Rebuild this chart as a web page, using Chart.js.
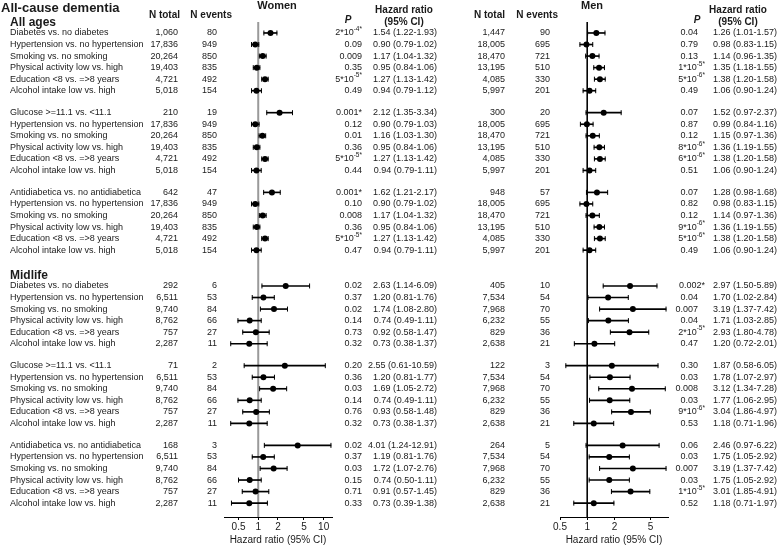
<!doctype html>
<html>

<head>
	<title>All-cause dementia - hazard ratios</title>
	<script src="https://cdn.jsdelivr.net/npm/chart.js"></script>
	<style>
		body {
			margin: 0;
			background: #fff;
		}
		#holder {
			position: relative;
			width: 779px;
			height: 546px;
		}
		#holder canvas {
			position: absolute;
			left: 0;
			top: 0;
		}
	</style>
</head>

<body>
	<div id="holder">
		<canvas id="women" width="779" height="546"></canvas>
		<canvas id="men" width="779" height="546"></canvas>
	</div>
	<script>
		const sectionLabels = ['All ages', 'Midlife'];
		const exposureLabels = ['Diabetes vs. no diabetes', 'Glucose >=11.1 vs. <11.1', 'Antidiabetica vs. no antidiabetica'];
		const riskLabels = [
			'Hypertension vs. no hypertension',
			'Smoking vs. no smoking',
			'Physical activity low vs. high',
			'Education <8 vs. =>8 years',
			'Alcohol intake low vs. high'
		];

		// one entry per row: 2 sections x 3 blocks x 6 rows
		const womenTotal = [
			1060, 17836, 20264, 19403, 4721, 5018,
			210, 17836, 20264, 19403, 4721, 5018,
			642, 17836, 20264, 19403, 4721, 5018,
			292, 6511, 9740, 8762, 757, 2287,
			71, 6511, 9740, 8762, 757, 2287,
			168, 6511, 9740, 8762, 757, 2287
		];
		const womenEvents = [
			80, 949, 850, 835, 492, 154,
			19, 949, 850, 835, 492, 154,
			47, 949, 850, 835, 492, 154,
			6, 53, 84, 66, 27, 11,
			2, 53, 84, 66, 27, 11,
			3, 53, 84, 66, 27, 11
		];
		const womenP = [
			'2*10^-4*', '0.09', '0.009', '0.35', '5*10^-5*', '0.49',
			'0.001*', '0.12', '0.01', '0.36', '5*10^-5*', '0.44',
			'0.001*', '0.10', '0.008', '0.36', '5*10^-5*', '0.47',
			'0.02', '0.37', '0.02', '0.14', '0.73', '0.32',
			'0.20', '0.36', '0.03', '0.14', '0.76', '0.32',
			'0.02', '0.37', '0.03', '0.15', '0.71', '0.33'
		];
		const womenHR = [
			1.54, 0.90, 1.17, 0.95, 1.27, 0.94,
			2.12, 0.90, 1.16, 0.95, 1.27, 0.94,
			1.62, 0.90, 1.17, 0.95, 1.27, 0.94,
			2.63, 1.20, 1.74, 0.74, 0.92, 0.73,
			2.55, 1.20, 1.69, 0.74, 0.93, 0.73,
			4.01, 1.19, 1.72, 0.74, 0.91, 0.73
		];
		const womenLo = [
			1.22, 0.79, 1.04, 0.84, 1.13, 0.79,
			1.35, 0.79, 1.03, 0.84, 1.13, 0.79,
			1.21, 0.79, 1.04, 0.84, 1.13, 0.79,
			1.14, 0.81, 1.08, 0.49, 0.58, 0.38,
			0.61, 0.81, 1.05, 0.49, 0.58, 0.38,
			1.24, 0.81, 1.07, 0.50, 0.57, 0.39
		];
		const womenHi = [
			1.93, 1.02, 1.32, 1.06, 1.42, 1.12,
			3.34, 1.03, 1.30, 1.06, 1.42, 1.11,
			2.17, 1.02, 1.32, 1.06, 1.42, 1.11,
			6.09, 1.76, 2.80, 1.11, 1.47, 1.37,
			10.59, 1.77, 2.72, 1.11, 1.48, 1.37,
			12.91, 1.76, 2.76, 1.11, 1.45, 1.38
		];

		const menTotal = [
			1447, 18005, 18470, 13195, 4085, 5997,
			300, 18005, 18470, 13195, 4085, 5997,
			948, 18005, 18470, 13195, 4085, 5997,
			405, 7534, 7968, 6232, 829, 2638,
			122, 7534, 7968, 6232, 829, 2638,
			264, 7534, 7968, 6232, 829, 2638
		];
		const menEvents = [
			90, 695, 721, 510, 330, 201,
			20, 695, 721, 510, 330, 201,
			57, 695, 721, 510, 330, 201,
			10, 54, 70, 55, 36, 21,
			3, 54, 70, 55, 36, 21,
			5, 54, 70, 55, 36, 21
		];
		const menP = [
			'0.04', '0.79', '0.13', '1*10^-5*', '5*10^-6*', '0.49',
			'0.07', '0.87', '0.12', '8*10^-6*', '6*10^-6*', '0.51',
			'0.07', '0.82', '0.12', '9*10^-6*', '5*10^-6*', '0.49',
			'0.002*', '0.04', '0.007', '0.04', '2*10^-5*', '0.47',
			'0.30', '0.03', '0.008', '0.03', '9*10^-6*', '0.53',
			'0.06', '0.03', '0.007', '0.03', '1*10^-5*', '0.52'
		];
		const menHR = [
			1.26, 0.98, 1.14, 1.35, 1.38, 1.06,
			1.52, 0.99, 1.15, 1.36, 1.38, 1.06,
			1.28, 0.98, 1.14, 1.36, 1.38, 1.06,
			2.97, 1.70, 3.19, 1.71, 2.93, 1.20,
			1.87, 1.78, 3.12, 1.77, 3.04, 1.18,
			2.46, 1.75, 3.19, 1.75, 3.01, 1.18
		];
		const menLo = [
			1.01, 0.83, 0.96, 1.18, 1.20, 0.90,
			0.97, 0.84, 0.97, 1.19, 1.20, 0.90,
			0.98, 0.83, 0.97, 1.19, 1.20, 0.90,
			1.50, 1.02, 1.37, 1.03, 1.80, 0.72,
			0.58, 1.07, 1.34, 1.06, 1.86, 0.71,
			0.97, 1.05, 1.37, 1.05, 1.85, 0.71
		];
		const menHi = [
			1.57, 1.15, 1.35, 1.55, 1.58, 1.24,
			2.37, 1.16, 1.36, 1.55, 1.58, 1.24,
			1.68, 1.15, 1.36, 1.55, 1.58, 1.24,
			5.89, 2.84, 7.42, 2.85, 4.78, 2.01,
			6.05, 2.97, 7.28, 2.95, 4.97, 1.96,
			6.22, 2.92, 7.42, 2.92, 4.91, 1.97
		];

		const womenTicks = [0.5, 1, 2, 5, 10];
		const menTicks = [0.5, 1, 2, 5];

		const FONT = "'Liberation Sans', Arial, sans-serif";
		const TEXT = '#1a1a1a';
		const BODY = '9px ' + FONT;
		const SUP = '6.5px ' + FONT;

		// row layout on the hidden y scale (units = one row)
		const BLOCK_STRIDE = 6.9;
		const SECTION_STRIDE = 21.9;
		const Y_MIN = -0.95;
		const Y_MAX = 41.9;

		const rowLabels = [];
		const rowPos = [];
		sectionLabels.forEach((s, si) => {
			exposureLabels.forEach((e, bi) => {
				[e].concat(riskLabels).forEach((label, i) => {
					rowLabels.push(label);
					rowPos.push(si * SECTION_STRIDE + bi * BLOCK_STRIDE + i);
				});
			});
		});

		const fmtN = (n) => n.toLocaleString('en-US');
		const fmtHR = (v, l, h) => v.toFixed(2) + ' (' + l.toFixed(2) + '-' + h.toFixed(2) + ')';

		function put(ctx, text, x, y, align, font) {
			ctx.font = font;
			ctx.textAlign = align;
			ctx.fillText(text, x, y);
		}

		// p values like 5*10^-5* : part after ^ is a superscript
		function putP(ctx, str, right, y) {
			const parts = str.split('^');
			ctx.textAlign = 'left';
			ctx.font = BODY;
			const wBase = ctx.measureText(parts[0]).width;
			let wSup = 0;
			if (parts[1]) {
				ctx.font = SUP;
				wSup = ctx.measureText(parts[1]).width;
			}
			const x0 = right - wBase - wSup;
			ctx.font = BODY;
			ctx.fillText(parts[0], x0, y);
			if (parts[1]) {
				ctx.font = SUP;
				ctx.fillText(parts[1], x0 + wBase, y - 3.5);
			}
		}

		function tablePlugin(cfg) {
			return {
				id: 'table',
				afterDraw(chart) {
					const ctx = chart.ctx;
					const ys = chart.scales.y;
					ctx.save();
					ctx.fillStyle = TEXT;
					ctx.textBaseline = 'middle';

					if (cfg.labels) {
						put(ctx, 'All-cause dementia', 1, 8, 'left', 'bold 13px ' + FONT);
						sectionLabels.forEach((s, si) => {
							put(ctx, s, 10, ys.getPixelForValue(si * SECTION_STRIDE - 0.9), 'left', 'bold 12px ' + FONT);
						});
					}
					put(ctx, cfg.title, cfg.titleX, 6, 'center', 'bold 11px ' + FONT);
					put(ctx, 'N total', cfg.totalHeadX, 15, 'right', 'bold 10px ' + FONT);
					put(ctx, 'N events', cfg.eventsHeadX, 15, 'right', 'bold 10px ' + FONT);
					put(ctx, 'P', cfg.pHeadX, 20, 'center', 'italic bold 10px ' + FONT);
					put(ctx, 'Hazard ratio', cfg.hrHeadX, 10, 'center', 'bold 10px ' + FONT);
					put(ctx, '(95% CI)', cfg.hrHeadX, 22, 'center', 'bold 10px ' + FONT);

					rowPos.forEach((pos, i) => {
						const y = ys.getPixelForValue(pos);
						if (cfg.labels) {
							put(ctx, rowLabels[i], 10, y, 'left', BODY);
						}
						put(ctx, fmtN(cfg.total[i]), cfg.totalX, y, 'right', BODY);
						put(ctx, String(cfg.events[i]), cfg.eventsX, y, 'right', BODY);
						const p = cfg.p[i];
						putP(ctx, p, cfg.pX + (p.endsWith('*') ? cfg.starHang : 0), y);
						put(ctx, fmtHR(cfg.hr[i], cfg.lo[i], cfg.hi[i]), cfg.hrX, y, 'right', BODY);
					});
					ctx.restore();
				}
			};
		}

		function forest(id, hr, lo, hi, xMin, xMax, ticks, padLeft, padRight, refColor, refWidth, plugin) {
			const points = hr.map((v, i) => ({x: v, y: rowPos[i]}));
			const ci = lo.map((v, i) => ({x: [v, hi[i]], y: rowPos[i]}));
			const caps = [];
			lo.forEach((v, i) => {
				caps.push({x: v, y: rowPos[i]}, {x: hi[i], y: rowPos[i]});
			});

			return new Chart(document.getElementById(id), {
				type: 'scatter',
				data: {
					datasets: [{
						data: points,
						pointRadius: 3,
						pointBackgroundColor: '#000',
						pointBorderWidth: 0,
						order: 0
					}, {
						data: caps,
						pointStyle: 'line',
						pointRotation: 90,
						pointRadius: 2.5,
						pointBorderColor: '#000',
						pointBorderWidth: 1,
						order: 1
					}, {
						type: 'bar',
						indexAxis: 'y',
						data: ci,
						barThickness: 1,
						backgroundColor: '#000',
						order: 2
					}, {
						type: 'line',
						data: [{x: 1, y: Y_MIN}, {x: 1, y: Y_MAX}],
						borderColor: refColor,
						borderWidth: refWidth,
						pointRadius: 0,
						order: 3
					}]
				},
				options: {
					responsive: false,
					animation: false,
					events: [],
					layout: {
						padding: {left: padLeft, right: padRight, top: 22, bottom: 0}
					},
					plugins: {
						legend: {display: false},
						tooltip: {enabled: false}
					},
					scales: {
						x: {
							type: 'logarithmic',
							position: 'bottom',
							min: xMin,
							max: xMax,
							beginAtZero: false,
							offset: false,
							afterBuildTicks: (scale) => {
								scale.ticks = ticks.map((v) => ({value: v}));
							},
							ticks: {
								callback: (v) => String(v),
								font: {family: FONT, size: 10},
								color: TEXT,
								padding: 1,
								maxRotation: 0,
								autoSkip: false
							},
							grid: {
								drawOnChartArea: false,
								drawTicks: true,
								tickLength: 3,
								offset: false,
								color: '#000'
							},
							border: {display: true, color: '#000', width: 1},
							title: {
								display: true,
								text: 'Hazard ratio (95% CI)',
								font: {family: FONT, size: 10},
								color: TEXT,
								padding: 0
							}
						},
						y: {
							type: 'linear',
							reverse: true,
							min: Y_MIN,
							max: Y_MAX,
							offset: false,
							grid: {offset: false},
							display: false
						}
					}
				},
				plugins: [plugin]
			});
		}

		window.onload = function() {
			window.womenChart = forest('women', womenHR, womenLo, womenHi, 0.32, 13.4, womenTicks,
				224, 779 - 332, '#9a9a9a', 2,
				tablePlugin({
					labels: true, title: 'Women', titleX: 277,
					total: womenTotal, events: womenEvents, p: womenP,
					hr: womenHR, lo: womenLo, hi: womenHi,
					totalHeadX: 180, eventsHeadX: 232, pHeadX: 348, hrHeadX: 404,
					totalX: 178, eventsX: 217, pX: 362, starHang: 0, hrX: 437
				}));
			window.menChart = forest('men', menHR, menLo, menHi, 0.5, 7.8, menTicks,
				560, 779 - 668, '#000', 1,
				tablePlugin({
					labels: false, title: 'Men', titleX: 592,
					total: menTotal, events: menEvents, p: menP,
					hr: menHR, lo: menLo, hi: menHi,
					totalHeadX: 505, eventsHeadX: 558, pHeadX: 697, hrHeadX: 738,
					totalX: 505, eventsX: 550, pX: 698, starHang: 7, hrX: 777
				}));
		};
	</script>
</body>

</html>
